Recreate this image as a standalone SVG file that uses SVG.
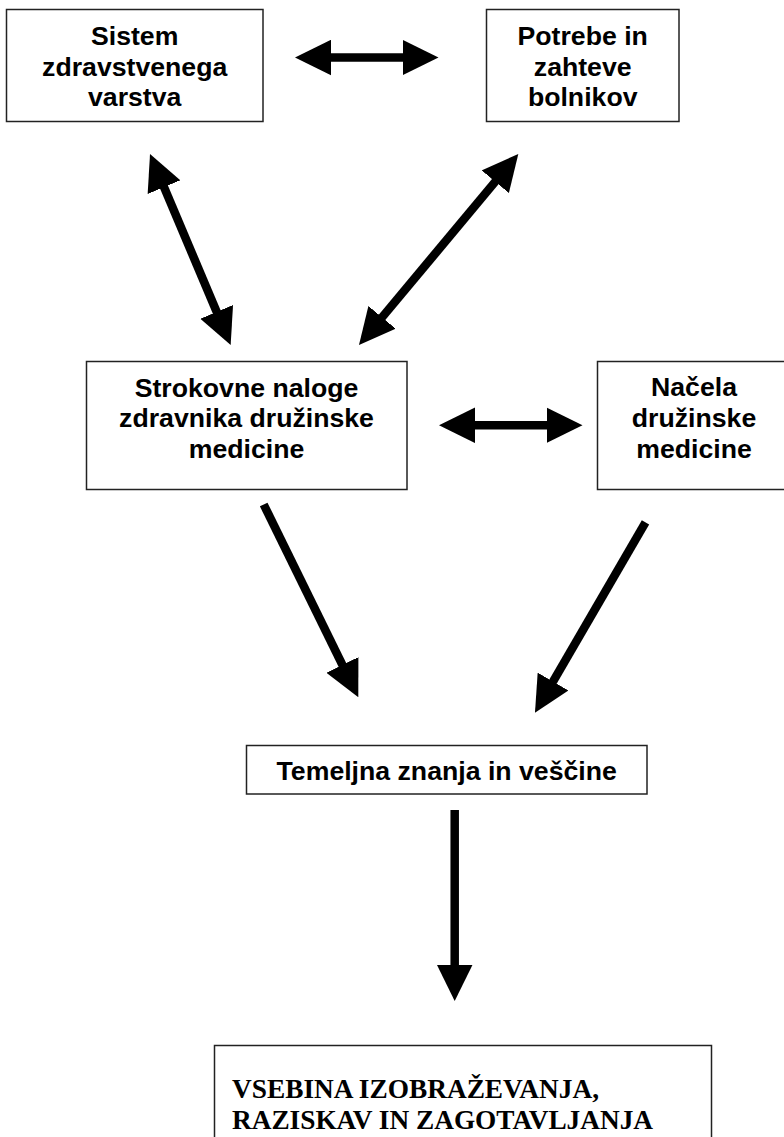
<svg xmlns="http://www.w3.org/2000/svg" width="784" height="1137" viewBox="0 0 784 1137">
<style>
.box{fill:#fff;stroke:#222;stroke-width:1.5}
.t{font-family:"Liberation Sans",Arial,sans-serif;font-weight:bold;font-size:26.67px;fill:#000;text-anchor:middle}
.s{font-family:"Liberation Serif","Times New Roman",serif;font-weight:bold;font-size:27px;fill:#000}
.c{stroke:#000;stroke-width:8.5;fill:none;stroke-linecap:butt}
</style>
<defs>
<marker id="ah" markerUnits="userSpaceOnUse" markerWidth="36" markerHeight="36" viewBox="0 0 36 35.5" refX="16" refY="17.75" orient="auto-start-reverse">
<path d="M0,0 L36,17.75 L0,35.5 z" fill="#000"/>
</marker>
</defs>
<rect width="784" height="1137" fill="#fff"/>
<g id="n1">
<rect class="box" x="6.5" y="9.5" width="256.5" height="112"/>
<text class="t" x="134.7" y="45">Sistem</text>
<text class="t" x="134.7" y="75.5">zdravstvenega</text>
<text class="t" x="134.7" y="106">varstva</text>
</g>
<g id="n2">
<rect class="box" x="486.5" y="9.5" width="192.5" height="112"/>
<text class="t" x="582.7" y="45">Potrebe in</text>
<text class="t" x="582.7" y="75.5">zahteve</text>
<text class="t" x="582.7" y="106">bolnikov</text>
</g>
<g id="n3">
<rect class="box" x="86.5" y="361.5" width="320.5" height="128"/>
<text class="t" x="246.5" y="396.5">Strokovne naloge</text>
<text class="t" x="246.5" y="427">zdravnika družinske</text>
<text class="t" x="246.5" y="457.5">medicine</text>
</g>
<g id="n4">
<rect class="box" x="597.5" y="361.5" width="195" height="128"/>
<text class="t" x="694" y="396">Načela</text>
<text class="t" x="694" y="426.5">družinske</text>
<text class="t" x="694" y="457.5">medicine</text>
</g>
<g id="n5">
<rect class="box" x="246.5" y="745.5" width="400.5" height="48.5"/>
<text class="t" x="446.7" y="780">Temeljna znanja in veščine</text>
</g>
<g id="n6">
<rect class="box" x="214.5" y="1045.5" width="497" height="120"/>
<text class="s" x="232" y="1098" textLength="367" lengthAdjust="spacingAndGlyphs">VSEBINA IZOBRAŽEVANJA,</text>
<text class="s" x="232" y="1129" textLength="421" lengthAdjust="spacingAndGlyphs">RAZISKAV IN ZAGOTAVLJANJA</text>
</g>
<g id="connectors">
<line class="c" x1="315" y1="57.5" x2="418.5" y2="57.5" marker-start="url(#ah)" marker-end="url(#ah)"/>
<line class="c" x1="459" y1="425.3" x2="562.5" y2="425.3" marker-start="url(#ah)" marker-end="url(#ah)"/>
<line class="c" x1="157.8" y1="172.4" x2="222.9" y2="326.6" marker-start="url(#ah)" marker-end="url(#ah)"/>
<line class="c" x1="371.8" y1="329.6" x2="505.5" y2="169.4" marker-start="url(#ah)" marker-end="url(#ah)"/>
<line class="c" x1="263.7" y1="504.5" x2="349.5" y2="679.3" marker-end="url(#ah)"/>
<line class="c" x1="645.5" y1="522.3" x2="545" y2="695.4" marker-end="url(#ah)"/>
<line class="c" x1="454.7" y1="810" x2="454.7" y2="981" marker-end="url(#ah)"/>
</g>
</svg>
